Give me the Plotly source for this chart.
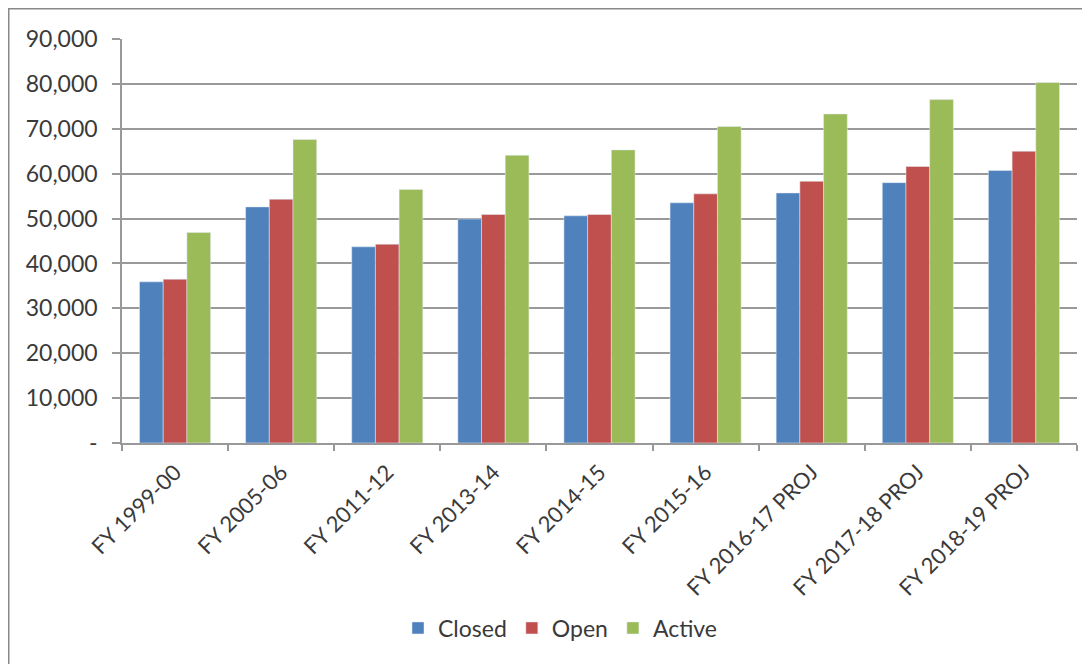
import plotly.graph_objects as go

categories = ["FY 1999-00", "FY 2005-06", "FY 2011-12", "FY 2013-14", "FY 2014-15",
              "FY 2015-16", "FY 2016-17 PROJ", "FY 2017-18 PROJ", "FY 2018-19 PROJ"]
closed = [35900, 52600, 43700, 49900, 50600, 53500, 55700, 58000, 60700]
open_ = [36500, 54300, 44300, 50900, 50900, 55500, 58300, 61600, 65000]
active = [46900, 67600, 56500, 64100, 65300, 70500, 73300, 76500, 80300]

tick_vals = [0, 10000, 20000, 30000, 40000, 50000, 60000, 70000, 80000, 90000]
tick_text = ["-", "10,000", "20,000", "30,000", "40,000", "50,000", "60,000",
             "70,000", "80,000", "90,000"]

FONT = "Lato"
TXT = "#3a3a3a"

fig = go.Figure()
fig.add_bar(name="Closed", x=categories, y=closed, marker_color="#4F81BD")
fig.add_bar(name="Open", x=categories, y=open_, marker_color="#C0504D")
fig.add_bar(name="Active", x=categories, y=active, marker_color="#9BBB59")

# page body has an 8px margin; layout numbers below are in figure coordinates
W, H = 1090, 664
L, R, T, B = 114, 21, 31, 229
pw, ph = W - L - R, H - T - B


def px(x):
    return (x - L) / pw


def py(y):
    return (H - B - y) / ph


fig.update_layout(
    width=W, height=H,
    margin=dict(l=L, r=R, t=T, b=B),
    barmode="group", bargap=0.33, bargroupgap=0,
    paper_bgcolor="white", plot_bgcolor="white",
    font=dict(family=FONT, color=TXT),
    showlegend=True,
    legend=dict(orientation="h", x=px(552), xanchor="center", y=py(620), yanchor="middle",
                font=dict(size=23, family=FONT, color=TXT), itemwidth=30,
                traceorder="normal"),
    xaxis=dict(
        type="category", tickson="boundaries", ticks="outside", ticklen=6,
        tickcolor="#999999", tickwidth=1.5,
        showline=True, linecolor="#999999", linewidth=1.5,
        showgrid=False, tickangle=-45, ticklabelstandoff=6,
        tickfont=dict(size=22, family=FONT, color=TXT),
    ),
    yaxis=dict(
        range=[0, 90000], tickvals=tick_vals, ticktext=tick_text,
        ticks="outside", ticklen=8, tickcolor="#999999", tickwidth=1.5,
        showline=True, linecolor="#999999", linewidth=1.5,
        showgrid=True, gridcolor="#999999", gridwidth=1.5,
        zeroline=False, ticklabelstandoff=10,
        tickfont=dict(size=23, family=FONT, color=TXT),
    ),
    shapes=[dict(type="rect", xref="paper", yref="paper",
                 x0=px(0.5), x1=px(1200), y0=py(0.5), y1=py(800),
                 line=dict(color="#888888", width=2), fillcolor="rgba(0,0,0,0)",
                 layer="below")],
)

fig.write_html("out.html")
